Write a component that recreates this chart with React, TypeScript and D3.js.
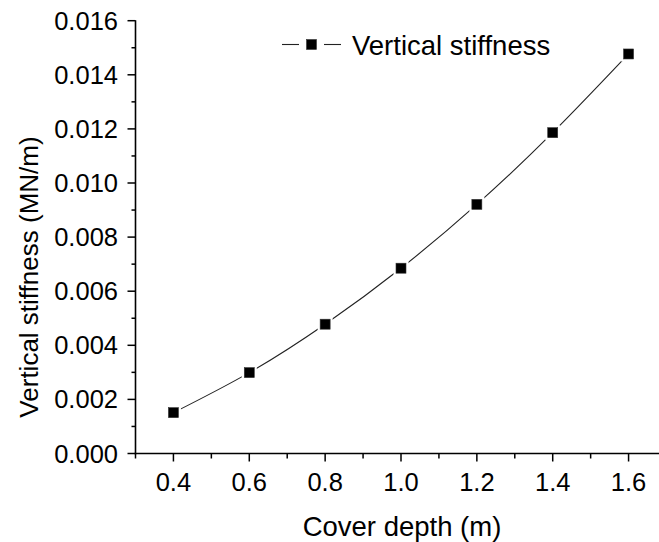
import React from "react";
import * as d3 from "d3";

const depths = [0.4, 0.6, 0.8, 1.0, 1.2, 1.4, 1.6];
const stiffness = [0.00151, 0.00299, 0.00478, 0.00685, 0.00921, 0.01186, 0.01477];
const xTicks = [0.4, 0.6, 0.8, 1.0, 1.2, 1.4, 1.6];
const xMinorTicks = [0.3, 0.5, 0.7, 0.9, 1.1, 1.3, 1.5, 1.7];
const yTicks = [0, 0.002, 0.004, 0.006, 0.008, 0.01, 0.012, 0.014, 0.016];
const yMinorTicks = [0.001, 0.003, 0.005, 0.007, 0.009, 0.011, 0.013, 0.015];
const seriesName = "Vertical stiffness";
const xTitle = "Cover depth (m)";
const yTitle = "Vertical stiffness (MN/m)";

const W = 659;
const H = 542;
const FONT = "'Liberation Sans', Arial, Helvetica, sans-serif";

export default function App() {
  const x = d3.scaleLinear().domain([0.3, 1.7]).range([135.5, 666.5]);
  const y = d3.scaleLinear().domain([0, 0.016]).range([453.5, 20.7]);
  const pts = depths.map((d, i) => [x(d), y(stiffness[i])] as [number, number]);
  const path = d3.line().curve(d3.curveNatural)(pts) || "";
  const x0 = x(0.3);
  const y0 = y(0);

  return (
    <svg
      width={W}
      height={H}
      style={{ position: "absolute", left: 0, top: 0, background: "#fff" }}
      fontFamily={FONT}
    >
      <rect x={0} y={0} width={W} height={H} fill="#fff" />
      {/* data line */}
      <path d={path} fill="none" stroke="#222" strokeWidth={1.1} />
      {pts.map((p, i) => (
        <g key={i}>
          <rect x={p[0] - 7.5} y={p[1] - 7.5} width={15} height={15} fill="#fff" />
          <rect x={p[0] - 5} y={p[1] - 5} width={10} height={10} fill="#000" stroke="#333" strokeWidth={0.6} />
        </g>
      ))}
      {/* y axis */}
      <line x1={x0} x2={x0} y1={y(0.016) - 0.5} y2={y0 + 0.75} stroke="#000" strokeWidth={1.6} />
      {yTicks.map((t) => (
        <g key={"y" + t}>
          <line x1={x0 - 8} x2={x0} y1={y(t)} y2={y(t)} stroke="#000" strokeWidth={1.5} />
          <text x={118} y={y(t) + 9} textAnchor="end" fontSize={25.5} fill="#000">
            {t.toFixed(3)}
          </text>
        </g>
      ))}
      {yMinorTicks.map((t) => (
        <line key={"ym" + t} x1={x0 - 4} x2={x0} y1={y(t)} y2={y(t)} stroke="#000" strokeWidth={1.5} />
      ))}
      {/* x axis */}
      <line x1={x0 - 0.75} x2={W} y1={y0} y2={y0} stroke="#000" strokeWidth={1.6} />
      {xTicks.map((t) => (
        <g key={"x" + t}>
          <line x1={x(t)} x2={x(t)} y1={y0} y2={y0 + 8} stroke="#000" strokeWidth={1.5} />
          <text x={x(t)} y={491} textAnchor="middle" fontSize={25.5} fill="#000">
            {t.toFixed(1)}
          </text>
        </g>
      ))}
      {xMinorTicks.map((t) => (
        <line key={"xm" + t} x1={x(t)} x2={x(t)} y1={y0} y2={y0 + 5} stroke="#000" strokeWidth={1.5} />
      ))}
      {/* axis titles */}
      <text x={402} y={536} textAnchor="middle" fontSize={27.5} fill="#000">
        {xTitle}
      </text>
      <text
        transform={`translate(38, 277) rotate(-90)`}
        textAnchor="middle"
        fontSize={26}
        fill="#000"
      >
        {yTitle}
      </text>
      {/* legend */}
      <line x1={282} x2={299} y1={44.5} y2={44.5} stroke="#222" strokeWidth={1.1} />
      <line x1={324} x2={341} y1={44.5} y2={44.5} stroke="#222" strokeWidth={1.1} />
      <rect x={306.5} y={39.5} width={10} height={10} fill="#000" stroke="#333" strokeWidth={0.6} />
      <text x={352} y={54.5} fontSize={27.5} fill="#000">
        {seriesName}
      </text>
    </svg>
  );
}
